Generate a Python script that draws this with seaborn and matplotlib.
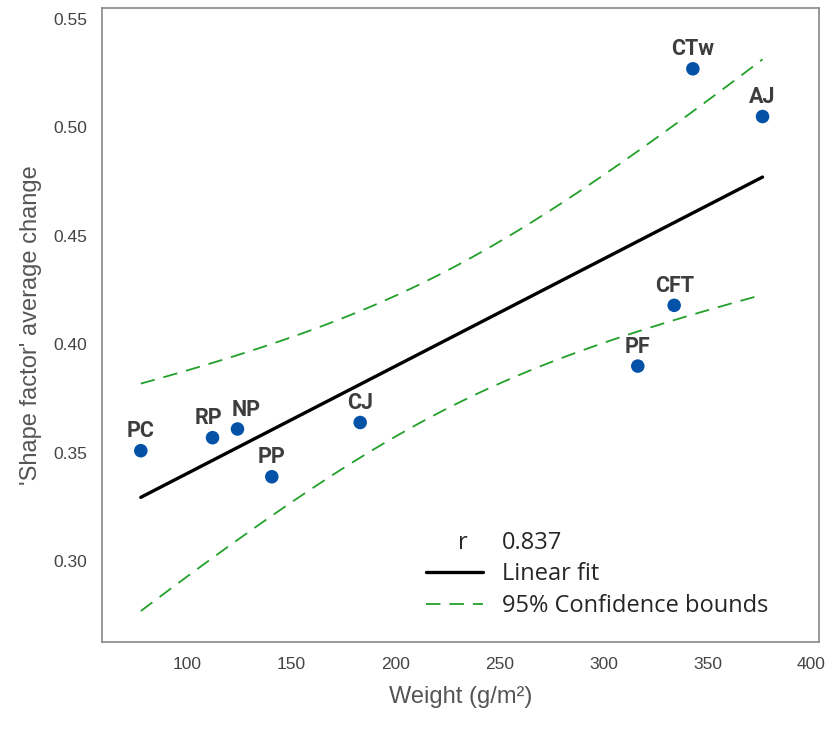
import numpy as np
import pandas as pd
import seaborn as sns
import matplotlib.pyplot as plt
from matplotlib.lines import Line2D

# data
labels = ["PC", "RP", "NP", "PP", "CJ", "PF", "CFT", "CTw", "AJ"]
weight = [77.5, 112, 124, 140.5, 183, 316.5, 334, 343, 376.5]
shape_change = [0.351, 0.357, 0.361, 0.339, 0.364, 0.390, 0.418, 0.527, 0.505]

df = pd.DataFrame({"label": labels, "weight": weight, "shape": shape_change})

# linear fit + 95% confidence bounds of the mean
x = df["weight"].to_numpy()
y = df["shape"].to_numpy()
n = len(x)
b1, b0 = np.polyfit(x, y, 1)
resid = y - (b0 + b1 * x)
s = np.sqrt(np.sum(resid**2) / (n - 2))
sxx = np.sum((x - x.mean())**2)
t = 2.365
xf = np.linspace(x.min(), x.max(), 100)
yf = b0 + b1 * xf
se = s * np.sqrt(1 / n + (xf - x.mean())**2 / sxx)
fit = pd.DataFrame({"x": xf, "fit": yf, "lo": yf - t * se, "hi": yf + t * se})

sns.set_style("white")
plt.rcParams['font.family'] = ['Liberation Sans', 'DejaVu Sans']

fig = plt.figure(figsize=(8.32, 7.3), dpi=100)
ax = fig.add_axes([0.123, 0.121, 0.861, 0.868])

green = "#22a02a"
sns.lineplot(data=fit, x="x", y="hi", ax=ax, color=green, lw=1.3, dashes=(8, 5))
sns.lineplot(data=fit, x="x", y="lo", ax=ax, color=green, lw=1.3, dashes=(8, 5))
sns.lineplot(data=fit, x="x", y="fit", ax=ax, color="black", lw=2.4)
sns.scatterplot(data=df, x="weight", y="shape", ax=ax, color="#0352a8", s=95,
                edgecolor="none", zorder=5)

# small horizontal nudges so RP / NP labels don't collide
nudge = {"RP": -3, "NP": 6}
for lab, xi, yi in zip(labels, weight, shape_change):
    ax.annotate(lab, (xi, yi), xytext=(nudge.get(lab, 0), 6), textcoords="offset points",
                ha="center", va="bottom", fontsize=15.5, fontweight="bold",
                color="#3d3d3d", family=["Roboto", "DejaVu Sans"])

ax.set_xlim(59, 403.5)
ax.set_ylim(0.263, 0.555)
ax.set_xticks([100, 150, 200, 250, 300, 350, 400])
ax.set_yticks([0.30, 0.35, 0.40, 0.45, 0.50, 0.55])
ax.set_yticklabels(["0.30", "0.35", "0.40", "0.45", "0.50", "0.55"])
ax.tick_params(axis="both", direction="out", length=5, width=1, color="#888888",
               labelsize=12.5, labelcolor="#444444", pad=6)
for sp in ax.spines.values():
    sp.set_color("#888888")
    sp.set_linewidth(1.2)

ax.set_xlabel("Weight (g/m²)", fontsize=17, color="#555555", labelpad=10)
ax.set_ylabel("'Shape factor' average change", fontsize=17, color="#555555", labelpad=8)

lfont = {"family": ["Open Sans", "DejaVu Sans"], "size": 17}
handles = [Line2D([], [], color="none"),
           Line2D([], [], color="black", lw=2.4),
           Line2D([], [], color=green, lw=1.3, dashes=(8, 5))]
leg = ax.legend(handles, [f"{0.837:.3f}", "Linear fit", "95% Confidence bounds"],
                loc="lower left", bbox_to_anchor=(0.452, 0.037), frameon=False,
                borderpad=0, borderaxespad=0,
                handlelength=2.4, handletextpad=0.8, labelspacing=0.33, prop=lfont)
ax.text(0.503, 0.155, "r", transform=ax.transAxes, ha="center", va="center",
        fontsize=17, family=["Open Sans", "DejaVu Sans"])

fig.savefig("out.png", dpi=100)
